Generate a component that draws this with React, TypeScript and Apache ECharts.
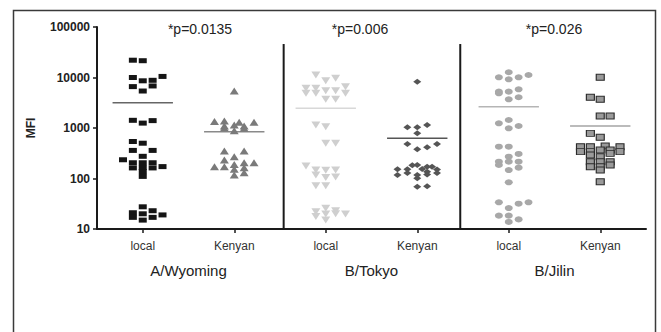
import React, { useEffect, useRef } from "react";
import * as echarts from "echarts";

// ---- data ----
const CATEGORIES = ["local", "Kenyan", "local", "Kenyan", "local", "Kenyan"];
const GROUPS = ["A/Wyoming", "B/Tokyo", "B/Jilin"];
const P_VALUES = ["*p=0.0135", "*p=0.006", "*p=0.026"];
const Y_TICKS = [10, 100, 1000, 10000, 100000];

// each point: [column slot (-2..2), MFI]
const wyomingLocal: [number, number][] = [
  [-1, 22000], [0, 21500],
  [-1, 10000], [2, 10500], [0, 8600], [1, 8800], [-1, 6600], [1, 6800], [0, 5400],
  [-1, 1420], [1, 1400], [0, 1250],
  [-1, 540], [0, 500], [-1, 360], [1, 360], [0, 275], [-2, 235],
  [-1, 205], [0, 205], [1, 205], [2, 172], [-1, 162], [0, 165], [1, 162], [0, 137], [0, 110],
  [0, 27.5], [1, 23], [-1, 21], [0, 20], [2, 19], [-1, 17], [1, 17], [0, 15],
];
const wyomingKenyan: [number, number][] = [
  [0, 5400],
  [-2, 1350], [-1, 1380], [0.5, 1300], [2, 1300], [-1, 1100], [0, 1150], [1, 1100],
  [-1, 1000], [1, 985], [0, 885],
  [-1, 351], [1, 351], [0, 270], [-1, 232], [1, 206], [2, 206], [0, 190],
  [-2, 171], [-1, 171], [1, 164], [0, 152], [1, 130], [0, 117],
];
const tokyoLocal: [number, number][] = [
  [-1, 11200], [1, 9640], [0, 8650], [2, 6580], [-2, 6100], [-1, 6100],
  [0, 5480], [1, 5480], [-2, 4870], [-1, 4870], [2, 4870], [0, 3700], [1, 3700],
  [-1, 1150], [0, 1060], [0, 498], [1, 498],
  [-2, 177], [-1, 147], [0, 145], [1, 147], [-1, 117], [1, 107], [0, 105], [-1, 72], [0, 72],
  [0, 25.7], [1, 23], [-1, 22], [0, 19.8], [2, 19.8], [1, 20], [-1, 17.6], [0, 15],
];
const tokyoKenyan: [number, number][] = [
  [0, 8270],
  [1, 1150], [-1, 1030], [0, 1030], [0, 785],
  [-1, 482], [2, 482], [1, 414], [0, 378],
  [0, 185], [-0.5, 182], [1, 171], [1.5, 171], [-2, 152], [-1, 152], [0.5, 155], [2, 150],
  [1, 136], [-1, 128], [2, 128], [-2, 117], [0, 117], [1, 120], [0, 101],
  [0, 69], [1, 70],
];
const jilinLocal: [number, number][] = [
  [0, 12700], [2, 11200], [-1, 10100], [1, 10100], [0, 9200],
  [1, 5840], [-1, 5250], [0, 5250], [-1, 4870], [1, 4060], [0, 3700],
  [0, 1440], [-1, 1240], [1, 1096], [0, 985],
  [-1, 426], [0, 426], [1, 306], [0, 270], [-1, 215], [0, 215], [1, 215], [-1, 185],
  [1, 164], [0, 147], [0, 84],
  [-1, 33.8], [2, 33.8], [1, 31.7], [0, 26], [-1, 18.4], [0, 18.4], [1, 15.5], [0, 13.8],
];
const jilinKenyan: [number, number][] = [
  [0, 10100], [-1, 4060], [0, 3700], [0, 1730], [1, 1730],
  [-1, 785], [0, 655],
  [0.5, 440], [-2, 426], [-1, 426], [2, 426], [0, 366], [1, 366],
  [-2, 340], [-1, 340], [2, 340], [1, 315], [-1, 292], [0, 270],
  [-1, 215], [0, 215], [1, 215], [1, 185], [-1, 171], [0, 171], [0, 147], [0, 86],
];
const MEANS = [3170, 845, 2450, 625, 2640, 1096];

export default function App() {
  const ref = useRef<HTMLDivElement>(null);

  useEffect(() => {
    if (!ref.current) return;
    const chart = echarts.init(ref.current, null, { renderer: "svg" });
    const FONT = "Liberation Sans, Arial, sans-serif";
    const SLOT = 0.108;
    const HALF = 0.33;
    const pts = (arr: [number, number][], idx: number) =>
      arr.map(([s, v]) => [idx + 0.5 + s * SLOT, v]);

    const groups = [
      { d: wyomingLocal, symbol: "rect", size: [8, 5], color: "#151515", rot: 0, border: undefined, mean: "#666" },
      { d: wyomingKenyan, symbol: "triangle", size: [9, 7], color: "#7a7a7a", rot: 0, border: undefined, mean: "#8a8a8a" },
      { d: tokyoLocal, symbol: "triangle", size: [9, 7], color: "#cfcfcf", rot: 180, border: undefined, mean: "#d8d8d8" },
      { d: tokyoKenyan, symbol: "diamond", size: [8, 6], color: "#555", rot: 0, border: undefined, mean: "#555" },
      { d: jilinLocal, symbol: "circle", size: [8, 6], color: "#a8a8a8", rot: 0, border: undefined, mean: "#b5b5b5" },
      { d: jilinKenyan, symbol: "rect", size: [8, 6], color: "#9a9a9a", rot: 0, border: "#2a2a2a", mean: "#a5a5a5" },
    ];

    const series: any[] = [];
    groups.forEach((g, i) => {
      series.push({
        type: "scatter",
        xAxisIndex: 1,
        yAxisIndex: 0,
        data: pts(g.d, i),
        symbol: g.symbol,
        symbolSize: g.size,
        symbolRotate: g.rot,
        itemStyle: g.border
          ? { color: g.color, borderColor: g.border, borderWidth: 1, opacity: 1 }
          : { color: g.color, opacity: 1 },
        z: 3,
      });
      series.push({
        type: "line",
        xAxisIndex: 1,
        yAxisIndex: 0,
        data: [
          [i + 0.5 - HALF, MEANS[i]],
          [i + 0.5 + HALF, MEANS[i]],
        ],
        showSymbol: false,
        symbol: "none",
        lineStyle: { color: g.mean, width: 1.5 },
        z: 2,
      });
    });
    [2.04, 3.97].forEach((x) => {
      series.push({
        type: "line",
        xAxisIndex: 1,
        yAxisIndex: 0,
        data: [
          [x, Y_TICKS[0]],
          [x, 46000],
        ],
        showSymbol: false,
        symbol: "none",
        lineStyle: { color: "#1a1a1a", width: 2 },
        z: 2,
      });
    });

    const pX = [200, 360, 554];

    chart.setOption({
      animation: false,
      backgroundColor: "#fff",
      textStyle: { fontFamily: FONT },
      grid: { left: 97, right: 15, top: 27, bottom: 103, containLabel: false },
      xAxis: [
        {
          type: "category",
          data: CATEGORIES,
          position: "bottom",
          boundaryGap: true,
          axisLine: { show: true, lineStyle: { color: "#1a1a1a", width: 2 } },
          axisTick: { show: true, alignWithLabel: true, length: 4, lineStyle: { color: "#1a1a1a", width: 1.5 } },
          axisLabel: { margin: 11, fontSize: 12, color: "#333", fontFamily: FONT },
          splitLine: { show: false },
        },
        { type: "value", min: 0, max: 6, show: false, position: "top" },
        {
          type: "category",
          data: GROUPS,
          position: "bottom",
          axisLine: { show: false },
          axisTick: { show: false },
          axisLabel: { margin: 34, fontSize: 15, color: "#222", fontFamily: FONT },
          splitLine: { show: false },
        },
      ],
      yAxis: {
        type: "log",
        logBase: 10,
        min: Y_TICKS[0],
        max: Y_TICKS[Y_TICKS.length - 1],
        name: "MFI",
        nameLocation: "middle",
        nameGap: 60,
        nameRotate: 90,
        nameTextStyle: { fontWeight: "bold", fontSize: 12, color: "#222", fontFamily: FONT },
        axisLine: { show: true, lineStyle: { color: "#1a1a1a", width: 2 } },
        axisTick: { show: true, length: 4, lineStyle: { color: "#1a1a1a", width: 1.5 } },
        axisLabel: {
          margin: 7,
          fontSize: 12,
          fontWeight: "bold",
          color: "#222",
          fontFamily: FONT,
          formatter: (v: number) => String(Math.round(v)),
        },
        splitLine: { show: false },
        minorTick: { show: false },
      },
      graphic: [
        {
          type: "rect",
          shape: { x: 13.5, y: 10.5, width: 642, height: 340 },
          style: { fill: "none", stroke: "#3a3a3a", lineWidth: 1.5 },
          silent: true,
        },
        ...P_VALUES.map((t, i) => ({
          type: "text",
          x: pX[i],
          y: 29,
          style: {
            text: t,
            fontSize: 14,
            fill: "#222",
            fontFamily: FONT,
            textAlign: "center",
            textVerticalAlign: "middle",
          },
          silent: true,
        })),
      ],
      series,
    });
    return () => chart.dispose();
  }, []);

  return (
    <div
      ref={ref}
      style={{ position: "absolute", left: 0, top: 0, width: 661, height: 332, background: "#fff" }}
    />
  );
}
